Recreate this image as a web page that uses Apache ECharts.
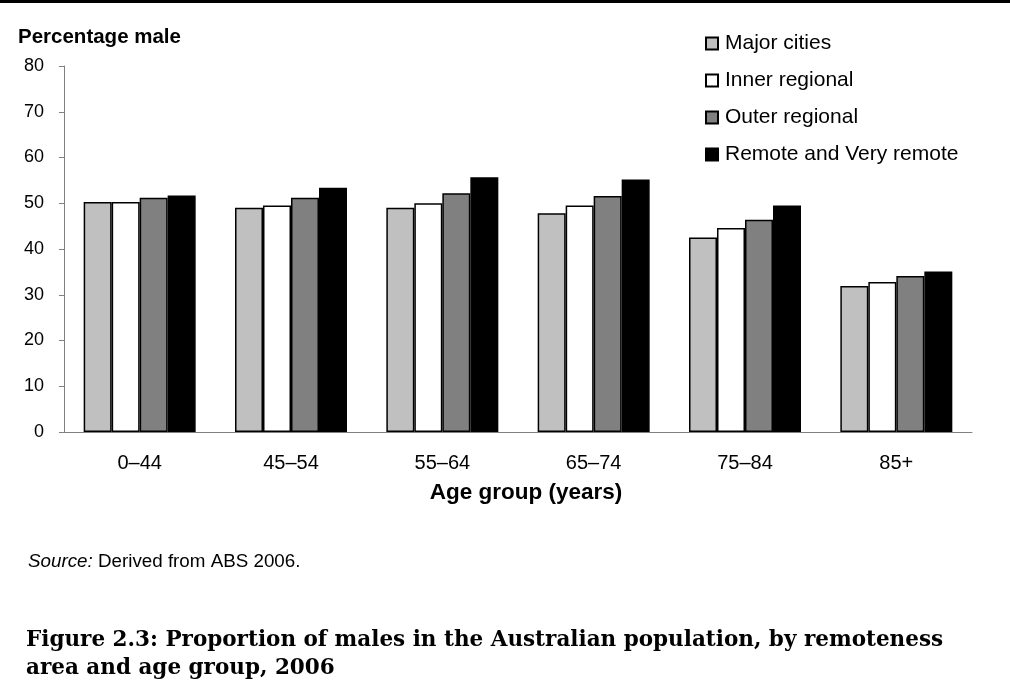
<!DOCTYPE html>
<html>
<head>
<meta charset="utf-8">
<script src="https://cdn.jsdelivr.net/npm/echarts@6/dist/echarts.min.js"></script>
<style>
html,body{margin:0;padding:0;background:#fff;}
#c{width:1010px;height:700px;}
</style>
</head>
<body>
<div id="c"></div>
<script>
const categories = ['0–44', '45–54', '55–64', '65–74', '75–84', '85+'];
const majorCities = [50.3, 49.0, 49.0, 47.8, 42.5, 31.9];
const innerRegional = [50.3, 49.5, 50.0, 49.5, 44.6, 32.8];
const outerRegional = [51.2, 51.2, 52.2, 51.6, 46.4, 34.1];
const remote = [51.7, 53.4, 55.7, 55.2, 49.5, 35.1];
const seriesNames = ['Major cities', 'Inner regional', 'Outer regional', 'Remote and Very remote'];
const seriesColors = ['#c0c0c0', '#ffffff', '#808080', '#000000'];
const yTicks = [0, 10, 20, 30, 40, 50, 60, 70, 80];

const chart = echarts.init(document.getElementById('c'));
const datasets = [majorCities, innerRegional, outerRegional, remote];
const font = 'Liberation Sans, Arial, sans-serif';

chart.setOption({
  animation: false,
  backgroundColor: '#fff',
  textStyle: { fontFamily: font, color: '#000' },
  graphic: [
    { type: 'rect', shape: { x: 0, y: 0, width: 1010, height: 3 }, style: { fill: '#000' } }
  ],
  title: [
    { text: 'Percentage male', left: 18, top: 27, padding: 0,
      textStyle: { fontFamily: font, fontSize: 20.5, fontWeight: 'bold', color: '#000' } },
    { text: '{i|Source:} Derived from ABS 2006.', left: 28, top: 552, padding: 0,
      textStyle: { rich: { i: { fontStyle: 'italic', fontSize: 18.8, fontFamily: font, color: '#000' } },
        fontFamily: font, fontSize: 18.8, fontWeight: 'normal', color: '#000' } },
    { text: 'Figure 2.3: Proportion of males in the Australian population, by remoteness\narea and age group, 2006',
      left: 26, top: 626, padding: 0,
      textStyle: { fontFamily: 'DejaVu Serif, serif', fontSize: 21.5, fontWeight: 'bold', color: '#000', lineHeight: 28 } }
  ],
  legend: {
    orient: 'vertical', left: 705, top: 33, padding: 0,
    itemWidth: 12, itemHeight: 12, itemGap: 16,
    icon: 'rect',
    textStyle: { fontFamily: font, fontSize: 21, color: '#000', padding: [0, 0, 0, 2] },
    data: seriesNames
  },
  grid: { left: 64, right: 38, top: 66, bottom: 268, containLabel: false },
  xAxis: {
    type: 'category', data: categories,
    name: 'Age group (years)', nameLocation: 'middle', nameGap: 49,
    nameTextStyle: { fontFamily: font, fontSize: 22.5, fontWeight: 'bold', color: '#000', padding: [0, 0, 0, 16] },
    axisLine: { lineStyle: { color: '#808080', width: 1 } },
    axisTick: { show: false },
    axisLabel: { fontFamily: font, fontSize: 20, color: '#000', margin: 21 }
  },
  yAxis: {
    type: 'value', min: yTicks[0], max: yTicks[yTicks.length - 1], interval: 10,
    splitLine: { show: false },
    axisLine: { show: true, lineStyle: { color: '#808080', width: 1 } },
    axisTick: { show: true, length: 5, lineStyle: { color: '#808080' } },
    axisLabel: { fontFamily: font, fontSize: 18, color: '#000', margin: 20 }
  },
  series: seriesNames.map((n, i) => ({
    name: n, type: 'bar', data: datasets[i],
    barGap: '0%', barCategoryGap: '26%',
    itemStyle: { color: seriesColors[i], borderColor: '#000', borderWidth: 1.5 }
  }))
});
</script>
</body>
</html>
